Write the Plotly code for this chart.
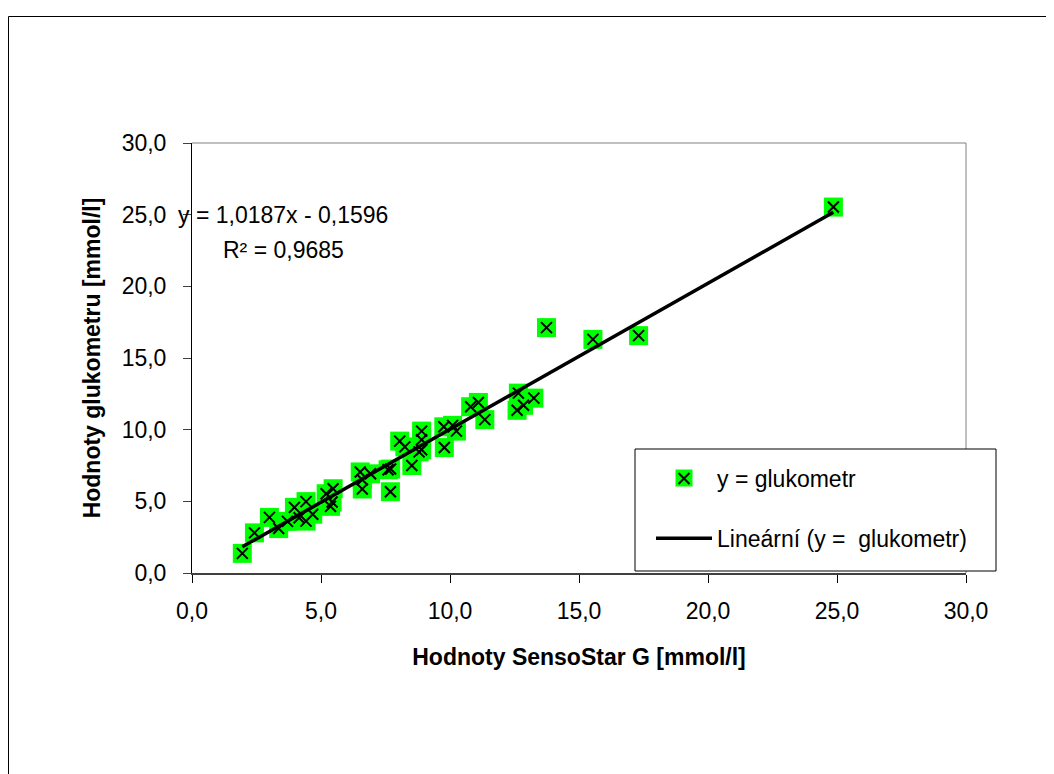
import plotly.graph_objects as go

# --- data ---
sensostar = [1.95, 2.42, 3.00, 3.36, 3.70, 3.97, 4.15, 4.42, 4.42, 4.68,
             5.20, 5.47, 5.37, 5.43, 6.52, 6.60, 6.60, 6.92, 7.60, 7.70,
             7.69, 8.05, 8.25, 8.52, 8.80, 8.90, 8.90, 8.90, 9.78, 9.76,
             10.10, 10.25, 10.80, 11.10, 11.35, 12.65, 12.60, 12.85, 13.25,
             13.74, 15.54, 17.31, 24.86]
glukometr = [1.37, 2.80, 3.88, 3.10, 3.60, 4.58, 3.85, 4.98, 3.62, 4.10,
             5.53, 5.88, 4.65, 4.95, 7.05, 6.50, 5.86, 6.92, 7.20, 7.25,
             5.67, 9.20, 8.80, 7.50, 8.45, 9.90, 9.30, 8.60, 8.75, 10.20,
             10.30, 9.90, 11.60, 11.90, 10.70, 12.55, 11.35, 11.70, 12.20,
             17.12, 16.30, 16.56, 25.53]
slope = 1.0187
intercept = -0.1596
r_squared = 0.9685
axis_ticks = [0, 5, 10, 15, 20, 25, 30]

series_name = "y = glukometr"
trend_name = "Lineární (y =\u00a0 glukometr)"

FONT = "Liberation Sans, Arial, sans-serif"
FS = 23

x_fit = [min(sensostar), max(sensostar)]
y_fit = [slope * v + intercept for v in x_fit]

fig = go.Figure()
# green squares (background of each marker)
fig.add_trace(go.Scatter(
    x=sensostar, y=glukometr, mode="markers", name=series_name,
    legendgroup="a", showlegend=False,
    marker=dict(symbol="square", size=19, color="#00FF00", line=dict(width=0)),
))
# black crosses on top
fig.add_trace(go.Scatter(
    x=sensostar, y=glukometr, mode="markers", name=series_name,
    legendgroup="a",
    marker=dict(symbol="x-thin", size=11, color="black",
                line=dict(width=2, color="black")),
))
fig.add_trace(go.Scatter(
    x=x_fit, y=y_fit, mode="lines", name=trend_name,
    legendgroup="b",
    line=dict(color="black", width=3.5),
))

# page coordinates (the page body adds an 8px offset)
OFF = 8
L, R, T, B = 192, 966, 143, 573
W, H = R - L, B - T
FIG_W, FIG_H = 1054 - OFF, 774 - OFF
def px(x):
    return (x - L) / W
def py(y):
    return (B - y) / H

# legend symbol (row 1) centre: green square under the legend cross
LX, LY = 684, 478
hs = 8.5

fig.update_layout(
    width=FIG_W, height=FIG_H,
    margin=dict(l=L - OFF, r=FIG_W - (R - OFF), t=T - OFF, b=FIG_H - (B - OFF)),
    paper_bgcolor="white", plot_bgcolor="white",
    separators=", ",
    font=dict(family=FONT, size=FS, color="black"),
    showlegend=True,
    legend=dict(
        x=px(651), y=py(457), xanchor="left", yanchor="top",
        bgcolor="rgba(0,0,0,0)", borderwidth=0,
        itemwidth=56, tracegroupgap=27, traceorder="grouped",
        font=dict(family=FONT, size=FS, color="black"),
    ),
    xaxis=dict(
        range=[0, 30], tickvals=axis_ticks, tickformat=".1f",
        ticks="outside", ticklen=8, tickcolor="black", tickwidth=1,
        showline=True, linecolor="#404040", linewidth=2,
        showgrid=False, zeroline=False, ticklabelstandoff=8,
        tickfont=dict(family=FONT, size=FS, color="black"),
        title=dict(text="Hodnoty SensoStar G [mmol/l]", standoff=26,
                   font=dict(family=FONT, size=FS, color="black", weight="bold")),
    ),
    yaxis=dict(
        range=[0, 30], tickvals=axis_ticks, tickformat=".1f",
        ticks="outside", ticklen=8, tickcolor="#404040", tickwidth=1,
        showline=True, linecolor="black", linewidth=1,
        showgrid=False, zeroline=False, ticklabelstandoff=12,
        tickfont=dict(family=FONT, size=FS, color="black"),
        title=dict(text="Hodnoty glukometru [mmol/l]", standoff=14,
                   font=dict(family=FONT, size=FS, color="black", weight="bold")),
    ),
    shapes=[
        # outer chart frame
        dict(type="rect", xref="paper", yref="paper",
             x0=px(8.5), x1=px(1080), y0=py(800), y1=py(16.5),
             line=dict(color="black", width=1), fillcolor="rgba(0,0,0,0)",
             layer="below"),
        # plot area top / right border
        dict(type="line", xref="paper", yref="paper", x0=0, x1=1, y0=1, y1=1,
             line=dict(color="#808080", width=1)),
        dict(type="line", xref="paper", yref="paper", x0=1, x1=1, y0=0, y1=1,
             line=dict(color="#808080", width=1)),
        # legend box
        dict(type="rect", xref="paper", yref="paper",
             x0=px(635), x1=px(996), y0=py(571), y1=py(449),
             line=dict(color="black", width=1), fillcolor="white", layer="above"),
        # green square behind the legend cross
        dict(type="rect", xref="paper", yref="paper",
             x0=px(LX - hs), x1=px(LX + hs), y0=py(LY + hs), y1=py(LY - hs),
             line=dict(width=0), fillcolor="#00FF00", layer="above"),
    ],
    annotations=[
        dict(xref="paper", yref="paper", x=px(176), y=py(215),
             xanchor="left", yanchor="middle", showarrow=False,
             text=f"y = {str(slope).replace('.', ',')}x - {str(-intercept).replace('.', ',')}",
             font=dict(family=FONT, size=FS, color="black")),
        dict(xref="paper", yref="paper", x=px(221), y=py(250),
             xanchor="left", yanchor="middle", showarrow=False,
             text=f"R\u00b2 = {str(r_squared).replace('.', ',')}",
             font=dict(family=FONT, size=FS, color="black")),
    ],
)

fig.write_html("out.html")
